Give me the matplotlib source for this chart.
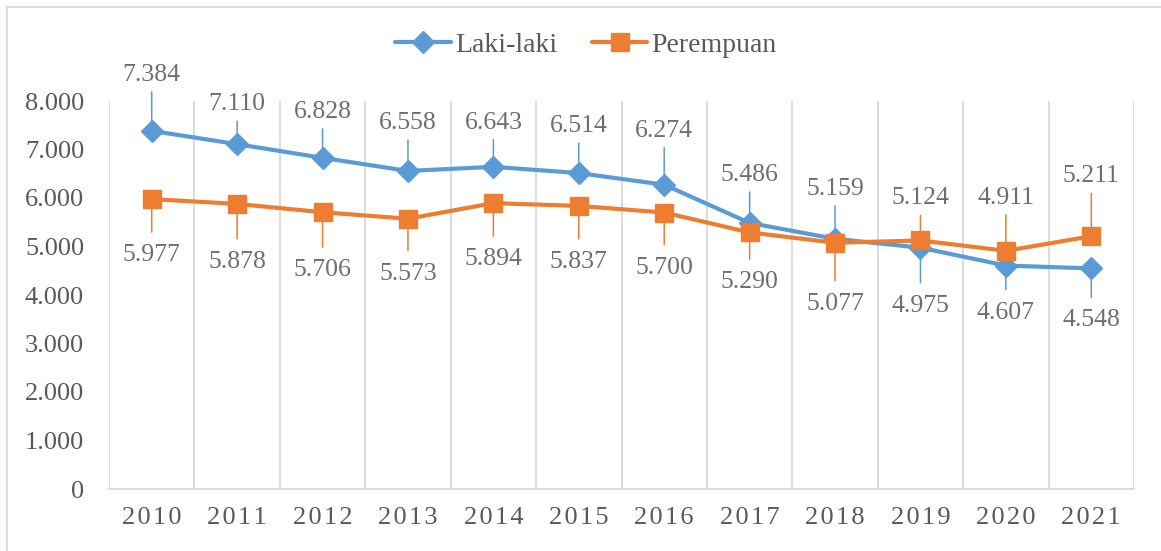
import matplotlib
matplotlib.use("Agg")
import matplotlib.pyplot as plt
from matplotlib.lines import Line2D
from matplotlib.ticker import FuncFormatter

# ---- data ----
years = ["2010", "2011", "2012", "2013", "2014", "2015", "2016", "2017", "2018", "2019", "2020", "2021"]
laki = [7384, 7110, 6828, 6558, 6643, 6514, 6274, 5486, 5159, 4975, 4607, 4548]
perempuan = [5977, 5878, 5706, 5573, 5894, 5837, 5700, 5290, 5077, 5124, 4911, 5211]
series_names = ["Laki-laki", "Perempuan"]

# ---- layout (label offsets in pixels, not data) ----
top_off = [59, 43, 49, 51, 47, 50, 57, 51, 53, 45, 56, 63]
bot_off = [53, 55, 55, 52, 53, 53, 52, 47, 58, 55, 44, 49]
n_blue_top = 9  # blue labels above for first 9 years, then orange above

BLUE = "#5B9BD5"
ORANGE = "#ED7D31"
TXT = "#595959"
LBL = "#6E6E6E"
GRID = "#D9D9D9"
FAM = ["Liberation Serif", "DejaVu Serif"]

plt.rcParams["font.family"] = FAM

W, H = 1161, 551
fig = plt.figure(figsize=(W / 100, H / 100), dpi=100)
ax = fig.add_axes([109 / W, 1 - 489 / H, (1134 - 109) / W, (489 - 101) / H])

x = list(range(len(years)))
l1, = ax.plot(x, laki, color=BLUE, lw=3.0, marker="D", ms=11, zorder=3,
              solid_capstyle="round", label=series_names[0])
l2, = ax.plot(x, perempuan, color=ORANGE, lw=3.0, marker="s", ms=13, zorder=4,
              solid_capstyle="round", label=series_names[1])

ax.set_xlim(-0.5, len(years) - 0.5)
ax.set_ylim(0, 8000)
ax.set_yticks(range(0, 8001, 1000))
ax.yaxis.set_major_formatter(FuncFormatter(lambda v, p: "0" if v == 0 else f"{int(v):,}".replace(",", ".")))
ax.set_xticks(x)
ax.set_xticklabels(["\u200a".join(y) for y in years])
ax.set_xticks([i - 0.5 for i in range(len(years) + 1)], minor=True)
ax.grid(which="minor", axis="x", color=GRID, lw=1.3)
ax.grid(which="major", visible=False)
ax.tick_params(axis="both", which="both", length=0, colors=TXT)
ax.tick_params(axis="y", labelsize=19, pad=18)
ax.tick_params(axis="x", labelsize=19, pad=13)
for s in ["left", "right", "top"]:
    ax.spines[s].set_visible(False)
ax.spines["bottom"].set_color(GRID)
ax.spines["bottom"].set_linewidth(1.3)


def label(xi, v, off, color, up):
    sign = 1 if up else -1
    # leader line
    ax.annotate("", xy=(xi, v), xytext=(0, sign * (off - 20)), textcoords="offset pixels",
                arrowprops=dict(arrowstyle="-", color=color, lw=1.1, shrinkA=0, shrinkB=0),
                zorder=1.5)
    ax.annotate(f"{v:,}".replace(",", "."), xy=(xi, v), xytext=(0, sign * off - 9),
                textcoords="offset pixels", ha="center", va="baseline",
                fontsize=18.5, color=LBL, zorder=5, annotation_clip=False)


for i in x:
    if i < n_blue_top:
        label(i, laki[i], top_off[i], BLUE, True)
        label(i, perempuan[i], bot_off[i], ORANGE, False)
    else:
        label(i, perempuan[i], top_off[i], ORANGE, True)
        label(i, laki[i], bot_off[i], BLUE, False)

fig.legend(handles=[l1, l2], loc="center", bbox_to_anchor=(586 / W, 1 - 45 / H),
           ncol=2, frameon=False, fontsize=20, handlelength=2.0, handletextpad=0.15,
           columnspacing=1.25, labelcolor=TXT)

# outer chart border (partially visible)
fig.add_artist(Line2D([7 / W, 7 / W], [0, 1 - 7 / H], color=GRID, lw=1.3, transform=fig.transFigure))
fig.add_artist(Line2D([7 / W, 1], [1 - 7 / H, 1 - 7 / H], color=GRID, lw=1.3, transform=fig.transFigure))

fig.savefig("out.png", dpi=100)
